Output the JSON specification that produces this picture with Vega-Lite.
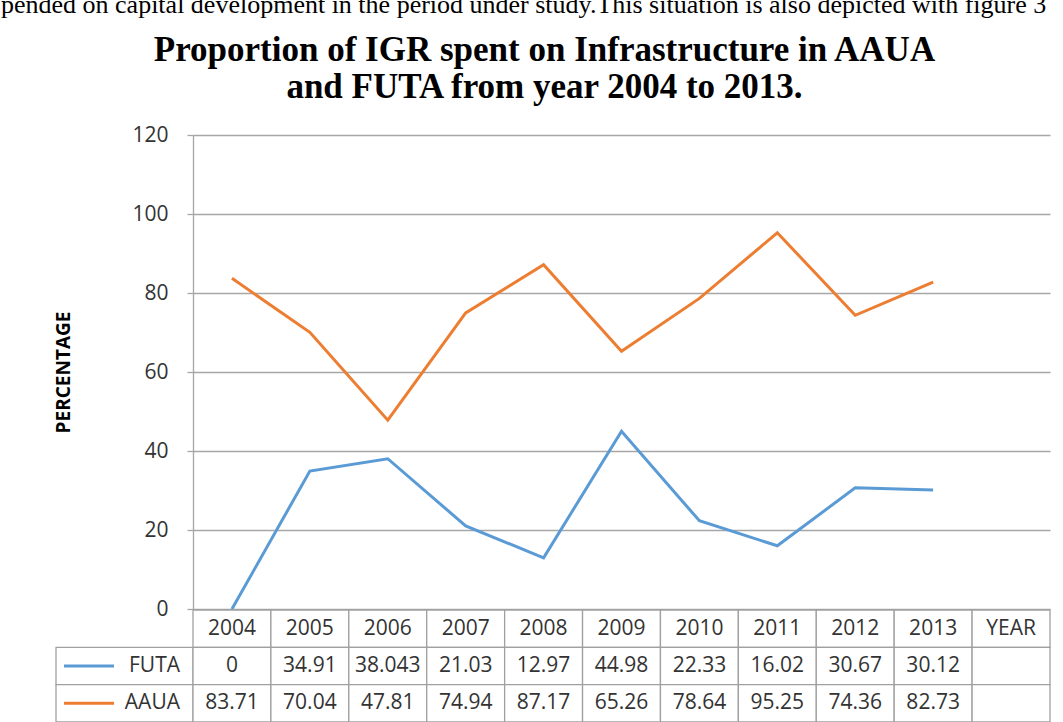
{
  "$schema": "https://vega.github.io/schema/vega-lite/v6.json",
  "background": "white",
  "padding": {"left": 0, "top": -8, "right": 0, "bottom": 0},
  "title": {
    "text": "pended on capital development in the period under study.This situation is also depicted with figure 3",
    "font": "Liberation Serif",
    "fontSize": 26,
    "fontWeight": "normal",
    "color": "black",
    "anchor": "start",
    "frame": "bounds",
    "dx": -54,
    "offset": 15
  },
  "config": {
    "view": {"stroke": null}
  },
  "datasets": {
    "main": [
      {"year": "2004", "FUTA": 0, "AAUA": 83.71},
      {"year": "2005", "FUTA": 34.91, "AAUA": 70.04},
      {"year": "2006", "FUTA": 38.043, "AAUA": 47.81},
      {"year": "2007", "FUTA": 21.03, "AAUA": 74.94},
      {"year": "2008", "FUTA": 12.97, "AAUA": 87.17},
      {"year": "2009", "FUTA": 44.98, "AAUA": 65.26},
      {"year": "2010", "FUTA": 22.33, "AAUA": 78.64},
      {"year": "2011", "FUTA": 16.02, "AAUA": 95.25},
      {"year": "2012", "FUTA": 30.67, "AAUA": 74.36},
      {"year": "2013", "FUTA": 30.12, "AAUA": 82.73},
      {"year": "YEAR", "FUTA": null, "AAUA": null}
    ],
    "series": [
      {"series": "FUTA"},
      {"series": "AAUA"}
    ]
  },
  "columns": 1,
  "align": "none",
  "spacing": -10,
  "concat": [
    {
      "title": {
        "text": ["Proportion of IGR spent on Infrastructure in AAUA", "and FUTA from year 2004 to 2013."],
        "font": "Liberation Serif",
        "fontSize": 35,
        "fontWeight": "bold",
        "color": "black",
        "lineHeight": 37,
        "anchor": "middle",
        "frame": "bounds",
        "dx": -8,
        "offset": 19
      },
      "bounds": "flush",
      "spacing": 0,
      "hconcat": [
        {
          "width": 137,
          "height": 474,
          "data": {"name": "main"},
          "transform": [{"fold": ["FUTA", "AAUA"], "as": ["series", "value"]}],
          "mark": {"type": "point", "opacity": 0},
          "encoding": {
            "y": {
              "field": "value",
              "type": "quantitative",
              "scale": {"domain": [0, 120], "nice": false},
              "axis": {
                "orient": "left",
                "offset": -137,
                "values": [0, 20, 40, 60, 80, 100, 120],
                "grid": false,
                "domain": false,
                "ticks": false,
                "labelFont": "Open Sans",
                "labelFontSize": 21,
                "labelColor": "#333333",
                "labelPadding": 25,
                "title": "PERCENTAGE",
                "titleFont": "Open Sans",
                "titleFontSize": 19,
                "titleFontWeight": "bold",
                "titleColor": "black",
                "titlePadding": 58
              }
            }
          }
        },
        {
          "width": 857,
          "height": 474,
          "data": {"name": "main"},
          "transform": [{"fold": ["FUTA", "AAUA"], "as": ["series", "value"]}],
          "mark": {"type": "line", "strokeWidth": 3},
          "encoding": {
            "x": {
              "field": "year",
              "type": "ordinal",
              "scale": {"type": "point", "padding": 0.5, "domain": ["2004", "2005", "2006", "2007", "2008", "2009", "2010", "2011", "2012", "2013", "YEAR"]},
              "axis": null
            },
            "y": {
              "field": "value",
              "type": "quantitative",
              "scale": {"domain": [0, 120], "nice": false},
              "axis": {
                "values": [0, 20, 40, 60, 80, 100, 120],
                "grid": true,
                "gridColor": "#a6a6a6",
                "gridWidth": 1.3,
                "domain": true,
                "domainColor": "#a6a6a6",
                "domainWidth": 1.3,
                "ticks": true,
                "tickColor": "#a6a6a6",
                "tickSize": 6,
                "tickWidth": 1.3,
                "labels": false,
                "title": null
              }
            },
            "color": {
              "field": "series",
              "type": "nominal",
              "scale": {"domain": ["FUTA", "AAUA"], "range": ["#5B9BD5", "#ED7D31"]},
              "legend": null
            }
          }
        }
      ]
    },
    {
      "bounds": "flush",
      "spacing": 0,
      "hconcat": [
        {
          "width": 137,
          "height": 112,
          "data": {"name": "series"},
          "encoding": {
            "y": {
              "field": "series",
              "type": "nominal",
              "scale": {"type": "band", "domain": ["hdr", "FUTA", "AAUA"], "paddingInner": 0, "paddingOuter": 0},
              "axis": null
            }
          },
          "layer": [
            {
              "mark": {"type": "rect", "fill": "white", "stroke": "#a0a0a0", "strokeWidth": 1.3}
            },
            {
              "mark": {"type": "point", "shape": "M-1,0L1,0", "size": 2500, "filled": false, "strokeWidth": 3, "opacity": 1},
              "encoding": {
                "x": {"datum": "sym", "type": "nominal", "scale": {"type": "point", "padding": 0, "domain": ["sym", "lbl"], "range": [33, 124]}, "axis": null},
                "color": {
                  "field": "series",
                  "type": "nominal",
                  "scale": {"domain": ["FUTA", "AAUA"], "range": ["#5B9BD5", "#ED7D31"]},
                  "legend": null
                }
              }
            },
            {
              "mark": {"type": "text", "align": "right", "baseline": "middle", "font": "Open Sans", "fontSize": 21, "color": "#333333"},
              "encoding": {
                "x": {"datum": "lbl", "type": "nominal"},
                "text": {"field": "series", "type": "nominal"}
              }
            }
          ]
        },
        {
          "width": 857,
          "height": 112,
          "data": {"name": "main"},
          "encoding": {
            "x": {
              "field": "year",
              "type": "nominal",
              "scale": {"type": "band", "paddingInner": 0, "paddingOuter": 0, "domain": ["2004", "2005", "2006", "2007", "2008", "2009", "2010", "2011", "2012", "2013", "YEAR"]},
              "axis": null
            }
          },
          "layer": [
            {
              "mark": {"type": "rect", "fill": "white", "stroke": "#a0a0a0", "strokeWidth": 1.3},
              "encoding": {
                "y": {
                  "datum": "hdr",
                  "type": "nominal",
                  "scale": {"type": "band", "domain": ["hdr", "FUTA", "AAUA"], "paddingInner": 0, "paddingOuter": 0},
                  "axis": null
                }
              }
            },
            {
              "mark": {"type": "text", "align": "center", "baseline": "middle", "font": "Open Sans", "fontSize": 21, "color": "#333333"},
              "encoding": {
                "y": {"datum": "hdr", "type": "nominal"},
                "text": {"field": "year", "type": "nominal"}
              }
            },
            {
              "transform": [{"fold": ["FUTA", "AAUA"], "as": ["series", "value"]}],
              "mark": {"type": "rect", "fill": "white", "stroke": "#a0a0a0", "strokeWidth": 1.3},
              "encoding": {
                "y": {"field": "series", "type": "nominal"}
              }
            },
            {
              "transform": [
                {"fold": ["FUTA", "AAUA"], "as": ["series", "value"]},
                {"filter": "datum.value != null"}
              ],
              "mark": {"type": "text", "align": "center", "baseline": "middle", "font": "Open Sans", "fontSize": 21, "color": "#333333"},
              "encoding": {
                "y": {"field": "series", "type": "nominal"},
                "text": {"field": "value", "type": "nominal"}
              }
            }
          ]
        }
      ]
    }
  ]
}
